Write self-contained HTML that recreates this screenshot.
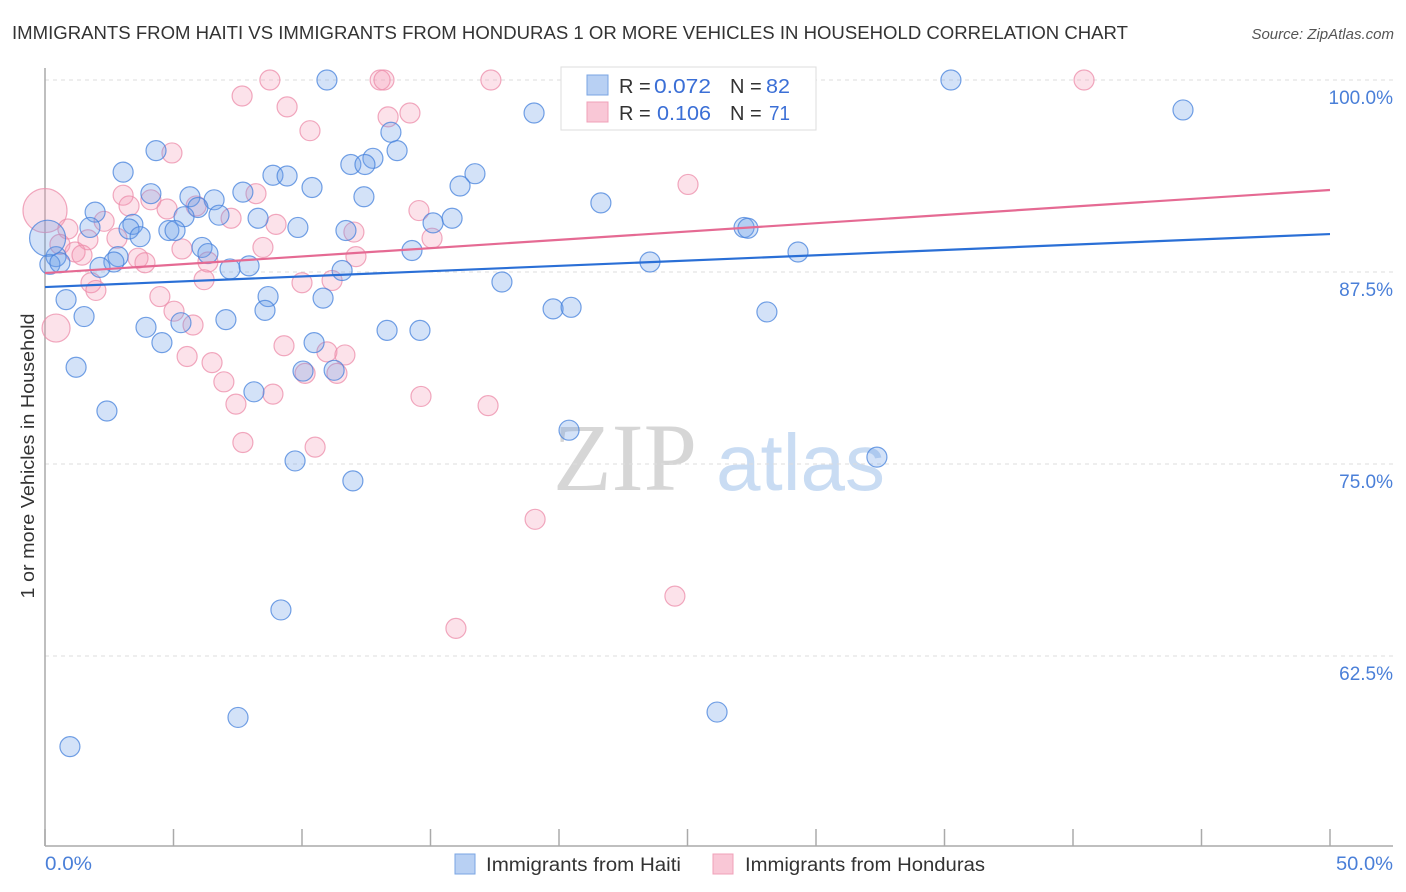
<!DOCTYPE html>
<html><head><meta charset="utf-8"><style>
body{margin:0;background:#fff;font-family:"Liberation Sans",sans-serif;}
svg{display:block}
</style></head><body>
<svg id="chart" width="1406" height="892" xmlns="http://www.w3.org/2000/svg">
<text x="12" y="39" font-size="18" fill="#333" textLength="1116" lengthAdjust="spacingAndGlyphs">IMMIGRANTS FROM HAITI VS IMMIGRANTS FROM HONDURAS 1 OR MORE VEHICLES IN HOUSEHOLD CORRELATION CHART</text>
<text x="1394" y="39" font-size="15" fill="#555" font-style="italic" text-anchor="end">Source: ZipAtlas.com</text>
<g>
<text x="553" y="490" font-size="96" fill="#d6d6d6" font-family="Liberation Serif, serif">ZIP</text>
<text x="716" y="490" font-size="80" fill="#c9dcf3" font-family="Liberation Sans, sans-serif">atlas</text>
</g>
<g id="grid"></g>
<g id="axes"></g>
<g id="points"></g>
<g id="trends"></g>
<text transform="translate(34,456) rotate(-90)" text-anchor="middle" font-size="18" fill="#333" textLength="285" lengthAdjust="spacingAndGlyphs">1 or more Vehicles in Household</text>
<text x="45" y="870" font-size="19" fill="#4a7fd8" textLength="47" lengthAdjust="spacingAndGlyphs">0.0%</text>
<text x="1336" y="870" font-size="19" fill="#4a7fd8" textLength="57" lengthAdjust="spacingAndGlyphs">50.0%</text>
<g>
<rect x="561" y="67" width="255" height="63" fill="#fff" stroke="#ddd"/>
<rect x="587" y="75" width="21" height="20" fill="#b8d0f3" stroke="#7aa5e3"/>
<rect x="587" y="102" width="21" height="20" fill="#f9c7d6" stroke="#f0a0b8"/>
<text x="619" y="93" font-size="20" fill="#333">R =</text>
<text x="654" y="93" font-size="20" fill="#3b6fd6" textLength="57" lengthAdjust="spacingAndGlyphs">0.072</text>
<text x="730" y="93" font-size="20" fill="#333">N =</text>
<text x="766" y="93" font-size="20" fill="#3b6fd6" textLength="24" lengthAdjust="spacingAndGlyphs">82</text>
<text x="619" y="120" font-size="20" fill="#333">R =</text>
<text x="657" y="120" font-size="20" fill="#3b6fd6" textLength="54" lengthAdjust="spacingAndGlyphs">0.106</text>
<text x="730" y="120" font-size="20" fill="#333">N =</text>
<text x="769" y="120" font-size="20" fill="#3b6fd6" textLength="21" lengthAdjust="spacingAndGlyphs">71</text>
</g>
<g>
<rect x="455" y="854" width="20" height="20" fill="#b8d0f3" stroke="#7aa5e3"/>
<text x="486" y="871" font-size="19" fill="#333" textLength="195" lengthAdjust="spacingAndGlyphs">Immigrants from Haiti</text>
</g>
<g>
<rect x="713" y="854" width="20" height="20" fill="#f9c7d6" stroke="#f0a0b8"/>
<text x="745" y="871" font-size="19" fill="#333" textLength="240" lengthAdjust="spacingAndGlyphs">Immigrants from Honduras</text>
</g>
</svg>
<script>
const yTicks=[100,87.5,75,62.5];
const yTickLabels=["100.0%","87.5%","75.0%","62.5%"];
const xTicks=[0,5,10,15,20,25,30,35,40,45,50];
const haitiX=[10.97,35.25,19.03,44.28,13.46,4.32,13.7,12.76,11.9,12.45,3.04,16.73,8.87,9.42,16.15,10.39,4.12,7.7,5.64,6.58,12.41,21.63,5.95,1.95,5.41,6.77,8.29,15.84,15.1,1.75,3.42,9.84,4.82,5.06,3.27,11.71,27.2,27.35,3.7,6.11,14.28,29.3,6.34,0.43,2.84,2.68,0.19,0.58,2.14,7.2,7.94,23.54,11.56,17.78,8.68,10.82,0.82,8.56,19.77,20.47,28.09,1.52,5.29,7.04,3.93,13.31,14.59,4.55,10.47,1.21,10.04,11.25,2.41,8.13,20.39,32.37,9.73,11.98,9.18,7.51,26.15,0.97,0.1];
const haitiY=[100,100,97.85,98.05,96.6,95.4,95.4,94.9,94.5,94.5,94.0,93.9,93.8,93.75,93.1,93.0,92.6,92.7,92.4,92.2,92.4,92.0,91.7,91.4,91.1,91.2,91.0,91.0,90.7,90.4,90.6,90.4,90.2,90.2,90.3,90.2,90.4,90.35,89.8,89.1,88.9,88.8,88.7,88.5,88.5,88.15,88.0,88.1,87.8,87.7,87.9,88.15,87.6,86.85,85.9,85.8,85.7,85.0,85.1,85.2,84.9,84.6,84.2,84.4,83.9,83.7,83.7,82.9,82.9,81.3,81.05,81.1,78.45,79.7,77.2,75.45,75.2,73.9,65.5,58.5,58.85,56.6,89.7];
const haitiSize=[10,10,10,10,10,10,10,10,10,10,10,10,10,10,10,10,10,10,10,10,10,10,10,10,10,10,10,10,10,10,10,10,10,10,10,10,10,10,10,10,10,10,10,10,10,10,10,10,10,10,10,10,10,10,10,10,10,10,10,10,10,10,10,10,10,10,10,10,10,10,10,10,10,10,10,10,10,10,10,10,10,10,18];
const hondX=[0,0.43,8.75,13.04,13.19,17.35,40.43,27.98,23.77,7.67,9.42,14.2,13.35,10.31,4.94,25.02,3.04,4.12,8.21,3.27,4.75,5.88,14.55,7.24,2.3,8.99,0.89,12.02,15.06,2.8,1.67,0.58,5.33,8.48,1.17,1.44,3.62,3.89,12.1,6.34,6.19,1.79,1.98,11.17,10.0,4.47,5.02,5.76,9.3,10.97,11.67,5.53,6.5,10.12,11.36,6.96,8.87,14.63,17.24,7.43,7.7,10.51,19.07,24.51,15.99];
const hondY=[91.5,83.85,100,100,100,100,100,100,100,98.96,98.25,97.85,97.6,96.7,95.25,93.2,92.5,92.2,92.6,91.8,91.6,91.8,91.5,91.0,90.8,90.6,90.3,90.1,89.7,89.7,89.6,89.3,89.0,89.1,88.8,88.6,88.4,88.1,88.5,88.15,87.0,86.8,86.3,86.95,86.8,85.9,84.95,84.05,82.7,82.3,82.1,82.0,81.6,80.9,80.9,80.35,79.55,79.4,78.8,78.9,76.4,76.1,71.4,66.4,64.3];
const hondSize=[22,14,10,10,10,10,10,10,10,10,10,10,10,10,10,10,10,10,10,10,10,10,10,10,10,10,10,10,10,10,10,10,10,10,10,10,10,10,10,10,10,10,10,10,10,10,10,10,10,10,10,10,10,10,10,10,10,10,10,10,10,10,10,10,10];
const haitiTrend=[86.52,89.97];
const hondTrend=[87.43,92.84];

const NS="http://www.w3.org/2000/svg";
const X0=45,X1=1330,Y100=80,PXPER=192/12.5;
function xs(v){return X0+(v/50)*(X1-X0);}
function ys(v){return Y100+(100-v)*PXPER;}
function mk(tag,attrs,parent){const e=document.createElementNS(NS,tag);for(const k in attrs)e.setAttribute(k,attrs[k]);parent.appendChild(e);return e;}
const grid=document.getElementById('grid');
yTicks.forEach((t,i)=>{
 const l=mk('line',{x1:X0,x2:1393,y1:ys(t),y2:ys(t),stroke:'#ddd','stroke-dasharray':'4,4'},grid);
 
 
 const tx=mk('text',{x:1393,y:ys(t)+24,'font-size':19,fill:'#4a7fd8','text-anchor':'end'},grid);
 tx.textContent=yTickLabels[i];
 
 
});
const axes=document.getElementById('axes');
const ya=mk('line',{x1:X0,x2:X0,y1:68,y2:846,stroke:'#aaa','stroke-width':1.5},axes);


const xa=mk('line',{x1:X0,x2:1393,y1:846,y2:846,stroke:'#aaa','stroke-width':1.5},axes);


xTicks.forEach(t=>{
 const l=mk('line',{x1:xs(t),x2:xs(t),y1:829,y2:846,stroke:'#aaa','stroke-width':1.5},axes);
 
 
});
const pts=document.getElementById('points');
function drawSeries(X,Y,S,fill,stroke,name){
 X.forEach((x,i)=>{
  const c=mk('circle',{cx:xs(x),cy:ys(Y[i]),r:S[i],fill:fill,stroke:stroke,'stroke-width':1.2},pts);
  
  
 });
}
drawSeries(hondX,hondY,hondSize,'rgba(244,150,180,0.28)','rgba(236,140,170,0.75)','honduras-point');
drawSeries(haitiX,haitiY,haitiSize,'rgba(110,160,232,0.3)','rgba(70,130,220,0.75)','haiti-point');
const tr=document.getElementById('trends');
const t1=mk('line',{x1:xs(0),x2:xs(50),y1:ys(haitiTrend[0]),y2:ys(haitiTrend[1]),stroke:'#2a6fd6','stroke-width':2.2},tr);


const t2=mk('line',{x1:xs(0),x2:xs(50),y1:ys(hondTrend[0]),y2:ys(hondTrend[1]),stroke:'#e56a93','stroke-width':2.2},tr);


</script>
</body></html>
